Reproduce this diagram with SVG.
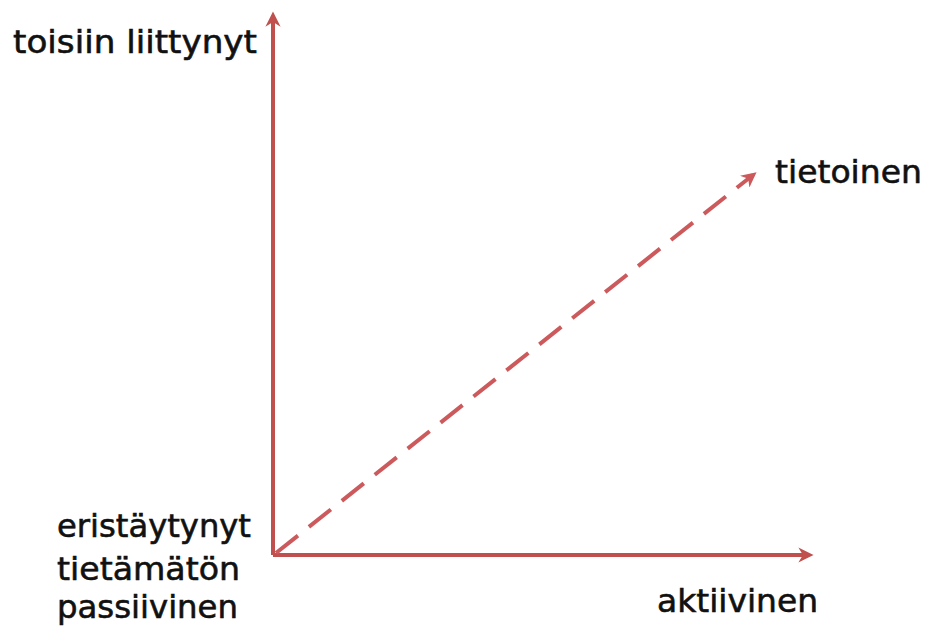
<svg xmlns="http://www.w3.org/2000/svg" width="933" height="632" viewBox="0 0 933 632">
  <style>
    .axis { stroke: #c0504d; stroke-width: 4; fill: none; }
    .trend { stroke: #cc5a5c; stroke-width: 4; fill: none; stroke-dasharray: 28 14; }
    .label { font-family: "DejaVu Sans", Verdana, sans-serif; font-size: 32px; fill: #111111; stroke: #111111; stroke-width: 0.6; }
  </style>
  <defs>
    <marker id="head" viewBox="0 0 10 10" refX="7" refY="5" markerWidth="3.8" markerHeight="3.8" orient="auto" markerUnits="strokeWidth">
      <path d="M0,0 L10,5 L0,10 L3,5 Z" fill="#c0504d"/>
    </marker>
    <marker id="headTrend" viewBox="0 0 10 10" refX="7" refY="5" markerWidth="3.8" markerHeight="3.8" orient="auto" markerUnits="strokeWidth">
      <path d="M0,0 L10,5 L0,10 L3,5 Z" fill="#cc5a5c"/>
    </marker>
  </defs>
  <rect width="933" height="632" fill="#ffffff"/>

  <g id="connectors">
    <line class="axis" x1="273" y1="555" x2="273" y2="16" marker-end="url(#head)"/>
    <line class="axis" x1="273" y1="555" x2="809" y2="555" marker-end="url(#head)"/>
    <line class="trend" x1="276" y1="553" x2="753" y2="175" marker-end="url(#headTrend)"/>
  </g>

  <g id="top-label">
    <text class="label" x="13" y="53" textLength="244" lengthAdjust="spacingAndGlyphs">toisiin liittynyt</text>
  </g>
  <g id="end-label">
    <text class="label" x="775" y="183" textLength="147" lengthAdjust="spacingAndGlyphs">tietoinen</text>
  </g>
  <g id="origin-label">
    <text class="label" x="57" y="537" textLength="194" lengthAdjust="spacingAndGlyphs">eristäytynyt</text>
    <text class="label" x="57" y="580" textLength="183" lengthAdjust="spacingAndGlyphs">tietämätön</text>
    <text class="label" x="57" y="618" textLength="181" lengthAdjust="spacingAndGlyphs">passiivinen</text>
  </g>
  <g id="right-label">
    <text class="label" x="657" y="612" textLength="161" lengthAdjust="spacingAndGlyphs">aktiivinen</text>
  </g>
</svg>
